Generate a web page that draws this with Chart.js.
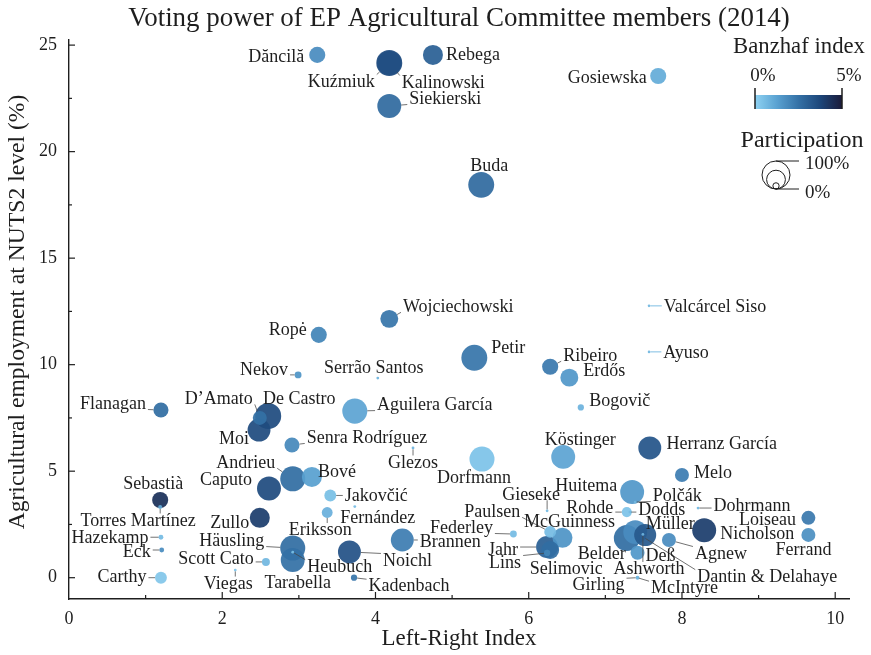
<!DOCTYPE html>
<html><head><meta charset="utf-8">
<script src="https://cdn.jsdelivr.net/npm/chart.js@4"></script>
<style>html,body{margin:0;padding:0;background:#fff;}#wrap{width:871px;height:655px;}</style>
</head><body><div id="wrap"><canvas id="c" width="871" height="655"></canvas></div>
<script>
// ---------- DATA ----------
const names = ["Dăncilă","Kuźmiuk","Kalinowski","Rebega","Siekierski","Gosiewska","Buda","Wojciechowski","Ropė","Petir",
"Serrão Santos","Nekov","Ribeiro","Erdős","Bogovič","Valcárcel Siso","Ayuso","Flanagan","D’Amato","De Castro",
"Moi","Senra Rodríguez","Aguilera García","Glezos","Dorfmann","Köstinger","Herranz García","Melo","Andrieu","Bové",
"Caputo","Jakovčić","Eriksson","Fernández","Sebastià","Torres Martínez","Zullo","Hazekamp","Eck","Carthy",
"Häusling","Heubuch","Tarabella","Scott Cato","Viegas","Noichl","Kadenbach","Brannen","Federley","Gieseke",
"Paulsen","McGuinness","Jahr","Selimovic","Lins","Huitema","Polčák","Rohde","Dodds","Belder",
"Dantin & Delahaye","Müller","Ashworth","Deß","Agnew","Nicholson","Dohrmann","Loiseau","Ferrand","Girling","McIntyre"];
const leftRight = [3.24,4.18,4.18,4.75,4.18,7.69,5.38,4.18,3.26,5.29,
4.03,2.99,6.28,6.53,6.68,7.57,7.57,1.20,2.49,2.60,
2.48,2.91,3.73,4.49,5.39,6.45,7.58,8.00,2.92,3.17,
2.61,3.41,3.37,3.73,1.19,1.19,2.49,1.20,1.21,1.20,
2.92,2.92,2.92,2.57,2.17,3.66,3.72,4.35,5.80,6.24,
6.28,6.44,6.24,6.28,6.24,7.35,7.39,7.28,7.32,7.28,
7.39,7.52,7.49,7.42,7.83,8.29,8.21,9.65,9.65,7.42,7.42];
const agriEmployment = [24.54,24.16,24.16,24.54,22.14,23.55,18.44,12.15,11.40,10.32,
9.37,9.52,9.90,9.39,7.99,12.76,10.60,7.87,7.50,7.59,
6.93,6.23,7.82,6.09,5.57,5.67,6.09,4.82,4.64,4.73,
4.19,3.86,3.06,3.34,3.65,3.32,2.81,1.90,1.30,0.00,
1.39,1.20,0.83,0.74,0.36,1.21,0.00,1.77,2.05,3.14,
2.15,1.87,1.44,1.30,1.16,4.02,3.55,3.08,3.08,1.86,
2.14,2.00,2.03,1.17,1.77,2.23,3.27,2.81,2.01,0.00,0.00];
const banzhaf = [1.8,3.6,3.5,3.0,2.7,1.0,2.7,2.4,2.0,2.4,
0.8,1.6,2.3,1.5,0.8,0.7,0.7,2.6,2.5,3.6,
3.6,1.9,1.2,0.8,0.4,1.2,3.3,2.2,2.6,1.3,
3.6,0.5,0.9,0.6,4.4,1.0,4.0,0.6,1.8,0.3,
2.6,0.5,2.5,0.7,0.4,3.4,2.4,2.2,0.6,0.6,
0.6,1.6,3.0,2.6,2.0,1.5,0.7,0.4,0.6,2.6,
1.8,3.2,0.8,1.5,1.8,4.0,0.7,2.3,1.7,0.7,0.7];
const participation = [33,86,75,51,73,33,86,41,33,86,
1,6,33,41,5,0,0,29,25,86,
67,29,80,1,80,73,67,25,80,51,
73,18,15,1,33,2,51,3,3,18,
80,1,73,8,1,67,5,67,6,1,
18,51,62,41,5,73,1,13,1,86,
73,62,1,25,25,73,1,25,25,2,1];
const xTickLabels = [0,2,4,6,8,10];
const yTickLabels = [0,5,10,15,20,25];

// ---------- LAYOUT (label offsets in px from the point) ----------
const labelOffsets = [[-41,1],[-48,18],[54,19],[40,-1],[56,-8],[-51,1],[8,-20],[69,-13],[-31,-6],[34,-11],
[-4,-11],[-34,-6],[40,-12],[35,-7],[39,-7],[66,0],[37,0],[-48,-7],[-41,-20],[31,-18],
[-25,8],[75,-8],[80,-7],[0,14],[-8,18],[17,-18],[72,-5],[31,-3],[-47,-17],[25,-6],
[-43,-9],[46,0],[-7,17],[23,11],[-7,-17],[-22,13],[-30,4],[-51,0],[-25,1],[-39,-1],
[-61,-8],[47,14],[5,22],[-50,-4],[-7,13],[58,8],[55,8],[48,1],[-52,-7],[-16,-17],
[-58,-21],[7,-17],[-44,2],[16,18],[-42,9],[-46,-7],[42,-7],[-37,-5],[32,-3],[-25,15],
[132,44],[25,-12],[6,34],[23,2],[52,13],[53,3],[54,-3],[-41,1],[-5,14],[-39,7],[47,10]];

const SERIF = '"Liberation Serif","Times New Roman",serif';
const INK = '#1e1e1e';
const stops = [[0,[142,210,242]],[0.25,[90,162,210]],[0.5,[52,113,166]],[0.75,[28,70,122]],[1,[27,27,58]]];
function colorFor(b, a){
  const t = Math.max(0, Math.min(1, b/5));
  for (let k=1;k<stops.length;k++){
    if (t <= stops[k][0]){
      const [t0,c0]=stops[k-1],[t1,c1]=stops[k]; const f=(t-t0)/(t1-t0);
      const c=c0.map((v,j)=>Math.round(v+(c1[j]-v)*f));
      return `rgba(${c[0]},${c[1]},${c[2]},${a})`;
    }
  }
}
const RMAX = 14;
function radiusFor(p){ return Math.max(1.3, RMAX*Math.sqrt(p/100)); }

const order = names.map((_,i)=>i).sort((a,b)=>participation[b]-participation[a]);

function fitSize(ctx, text, w){ ctx.font = `100px ${SERIF}`; return 100*w/ctx.measureText(text).width; }

const overlay = {
  id:'overlay',
  afterDatasetsDraw(chart){
    const {ctx, scales:{x, y}, chartArea:ca} = chart;
    ctx.save();
    // inward ticks
    ctx.strokeStyle = INK; ctx.lineWidth = 1.2;
    for (let v=1; v<=10; v++){
      const px = x.getPixelForValue(v), L = (v%2===0)?7:4;
      ctx.beginPath(); ctx.moveTo(px, ca.bottom); ctx.lineTo(px, ca.bottom-L); ctx.stroke();
    }
    for (let v=0; v<=25; v+=2.5){
      const py = y.getPixelForValue(v), L = (v%5===0)?6:3;
      ctx.beginPath(); ctx.moveTo(ca.left, py); ctx.lineTo(ca.left+L, py); ctx.stroke();
    }
    // labels + leaders
    const fs = 18;
    ctx.font = `${fs}px ${SERIF}`;
    ctx.textAlign='center'; ctx.textBaseline='middle';
    names.forEach((n,i)=>{
      const px = x.getPixelForValue(leftRight[i]), py = y.getPixelForValue(agriEmployment[i]);
      const r = radiusFor(participation[i]);
      const cx = px + labelOffsets[i][0], cy = py + labelOffsets[i][1];
      const w = ctx.measureText(n).width, h = fs*0.72;
      const x0 = cx-w/2-2, x1 = cx+w/2+2, y0 = cy-h/2, y1 = cy+h/2;
      const nx = Math.max(x0, Math.min(px, x1)), ny = Math.max(y0, Math.min(py, y1));
      const d = Math.hypot(nx-px, ny-py);
      if (d - r > 4){
        const ux=(nx-px)/d, uy=(ny-py)/d;
        ctx.strokeStyle = participation[i] < 1 ? colorFor(banzhaf[i],1) : 'rgba(70,70,70,0.85)';
        ctx.lineWidth = 0.9;
        ctx.beginPath(); ctx.moveTo(px+ux*r, py+uy*r); ctx.lineTo(nx, ny); ctx.stroke();
      }
      ctx.fillStyle = INK;
      ctx.fillText(n, cx, cy+1);
    });
    // title
    ctx.fillStyle = INK;
    let t = 'Voting power of EP Agricultural Committee members (2014)';
    ctx.font = `${fitSize(ctx,t,662)}px ${SERIF}`; ctx.fillText(t, 459, 19);
    t = 'Left-Right Index';
    ctx.font = `${fitSize(ctx,t,155)}px ${SERIF}`; ctx.fillText(t, 459, 639);
    t = 'Agricultural employment at NUTS2 level (%)';
    ctx.save(); ctx.translate(18, 312); ctx.rotate(-Math.PI/2);
    ctx.font = `${fitSize(ctx,t,435)}px ${SERIF}`; ctx.fillText(t, 0, 0); ctx.restore();
    // legend: Banzhaf
    t = 'Banzhaf index';
    ctx.font = `${fitSize(ctx,t,132)}px ${SERIF}`; ctx.fillText(t, 799, 47);
    ctx.font = `19px ${SERIF}`;
    ctx.fillText('0%', 763, 76); ctx.fillText('5%', 849, 76);
    const g = ctx.createLinearGradient(755,0,842,0);
    for (let k=0;k<=20;k++) g.addColorStop(k/20, colorFor(5*k/20,1));
    ctx.fillStyle = g; ctx.fillRect(755, 95, 87, 14);
    ctx.strokeStyle = INK; ctx.lineWidth = 1.5;
    ctx.beginPath(); ctx.moveTo(755,88); ctx.lineTo(755,109); ctx.moveTo(842,88); ctx.lineTo(842,109); ctx.stroke();
    // legend: Participation
    ctx.fillStyle = INK;
    t = 'Participation';
    ctx.font = `${fitSize(ctx,t,123)}px ${SERIF}`; ctx.fillText(t, 802, 141);
    ctx.lineWidth = 1; ctx.strokeStyle = INK;
    [100, 45, 5].forEach(p=>{
      const r = radiusFor(p);
      ctx.beginPath(); ctx.arc(776, 189-r, r, 0, 2*Math.PI); ctx.stroke();
    });
    ctx.beginPath(); ctx.moveTo(776,161); ctx.lineTo(799,161); ctx.moveTo(776,189); ctx.lineTo(799,189); ctx.stroke();
    ctx.font = `19px ${SERIF}`; ctx.textAlign='left';
    ctx.fillText('100%', 805, 164); ctx.fillText('0%', 805, 193);
    ctx.restore();
  }
};

new Chart(document.getElementById('c').getContext('2d'), {
  type:'bubble',
  data:{datasets:[{
    data: order.map(i=>({x:leftRight[i], y:agriEmployment[i], r:radiusFor(participation[i])})),
    backgroundColor: order.map(i=>colorFor(banzhaf[i],0.93)),
    borderWidth:0, hoverRadius:0
  }]},
  options:{
    responsive:false, animation:false, events:[],
    layout:{padding:{top:40,right:22,left:0,bottom:0}},
    plugins:{legend:{display:false}, tooltip:{enabled:false}, title:{display:false}},
    scales:{
      x:{type:'linear', min:0, max:10.18,
        afterFit(s){ s.height = 56; },
        afterBuildTicks(s){ s.ticks = xTickLabels.map(v=>({value:v})); },
        ticks:{font:{family:SERIF,size:18}, color:INK, padding:9, maxRotation:0, autoSkip:false},
        grid:{display:false, drawTicks:false, tickLength:0}, border:{display:true, color:INK, width:1.4}},
      y:{type:'linear', min:-1, max:25.24,
        afterFit(s){ s.width = 69; },
        afterBuildTicks(s){ s.ticks = yTickLabels.map(v=>({value:v})); },
        ticks:{font:{family:SERIF,size:18}, color:INK, padding:12, autoSkip:false},
        grid:{display:false, drawTicks:false, tickLength:0}, border:{display:true, color:INK, width:1.4}}
    }
  },
  plugins:[overlay]
});
</script></body></html>
